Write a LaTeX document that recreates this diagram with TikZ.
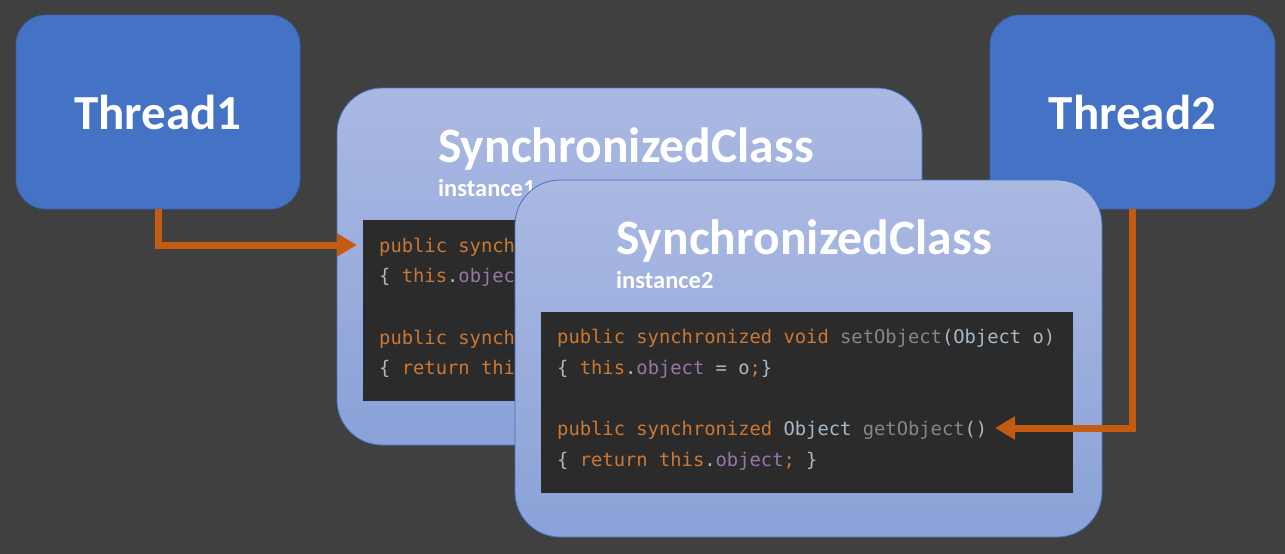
\documentclass[tikz,border=0pt]{standalone}
\usepackage{fontspec}
\setmainfont{Carlito}
\newfontfamily\codefont{DejaVu Sans Mono}
\usetikzlibrary{arrows.meta}
\definecolor{bg}{HTML}{404040}
\definecolor{threadblue}{HTML}{4472C4}
\definecolor{threadborder}{HTML}{3A62AC}
\definecolor{instTop}{HTML}{AAB9E2}
\definecolor{instBot}{HTML}{8AA2D8}
\definecolor{codebg}{HTML}{2B2B2B}
\definecolor{arrowc}{HTML}{C55A11}
\definecolor{ckwc}{HTML}{CC7832}
\definecolor{cdef}{HTML}{A9B7C6}
\definecolor{cpuc}{HTML}{9876AA}
\definecolor{cmnc}{HTML}{868686}
\newcommand\ckw[1]{\textcolor{ckwc}{#1}}
\newcommand\cpu[1]{\textcolor{cpuc}{#1}}
\newcommand\cmn[1]{\textcolor{cmnc}{#1}}
\begin{document}
\begin{tikzpicture}[x=1pt,y=-1pt,
  threadbox/.style={draw=threadborder, line width=0.8pt, fill=threadblue, rounded corners=30pt,
    minimum width=284pt, minimum height=194pt, inner sep=0pt, text=white,
    font=\fontsize{49}{55}\selectfont\bfseries},
  instbox/.style={draw=threadblue, line width=0.8pt, rounded corners=45pt,
    top color=instTop, bottom color=instBot, minimum height=357pt, inner sep=0pt},
  codebox/.style={fill=codebg, minimum width=532pt, minimum height=181pt, inner sep=0pt, anchor=north west},
  codeline/.style={anchor=base west, inner sep=0pt, text=cdef,
    font=\codefont\fontsize{18.8}{22}\selectfont},
  titletext/.style={anchor=base west, inner sep=0pt, text=white,
    font=\fontsize{49.6}{55}\selectfont\bfseries},
  subtext/.style={anchor=base west, inner sep=0pt, text=white,
    font=\fontsize{24.5}{28}\selectfont\bfseries},
  flow/.style={draw=arrowc, line width=7pt, -{Triangle[length=20pt,width=22pt]}}
]
\fill[bg] (0,0) rectangle (1285,554);
\path[use as bounding box] (0,0) rectangle (1285,554);

% threads
\node[threadbox] (t1) at (158,112) {Thread1};
\node[threadbox, minimum width=285pt] (t2) at (1132.5,112) {Thread2};

% instance 1 (mostly hidden behind instance 2)
\node[instbox, minimum width=585pt] (i1) at (629.5,266.5) {};
\node[titletext] (i1title) at (438,162) {SynchronizedClass};
\node[subtext] (i1sub) at (438,196) {instance1};
\node[codebox] (c1) at (363,220) {};
\node[codeline] (c1l1) at (379,252) {\ckw{public synch}};
\node[codeline] (c1l2) at (379,282) {\{ \ckw{this}.\cpu{objec}};
\node[codeline] (c1l4) at (379,344) {\ckw{public synch}};
\node[codeline] (c1l5) at (379,374) {\{ \ckw{return thi}};

% instance 2
\node[instbox, minimum width=587pt] (i2) at (808.5,358.5) {};
\node[titletext] (i2title) at (616,254) {SynchronizedClass};
\node[subtext] (i2sub) at (616,288) {instance2};
\node[codebox] (c2) at (541,312) {};
\node[codeline] (c2l1) at (557,343) {\ckw{public synchronized void} \cmn{setObject}(Object o)};
\node[codeline] (c2l2) at (557,374) {\{ \ckw{this}.\cpu{object} = o\ckw{;}\}};
\node[codeline] (c2l4) at (557,435) {\ckw{public synchronized} Object \cmn{getObject}()};
\node[codeline] (c2l5) at (557,466) {\{ \ckw{return this}.\cpu{object}\ckw{;} \}};

% connectors
\coordinate (a1end) at (357,245);
\coordinate (a2end) at (995,428);
\draw[flow] (t1.south) |- (a1end);
\draw[flow] (t2.south) |- (a2end);
\end{tikzpicture}
\end{document}
